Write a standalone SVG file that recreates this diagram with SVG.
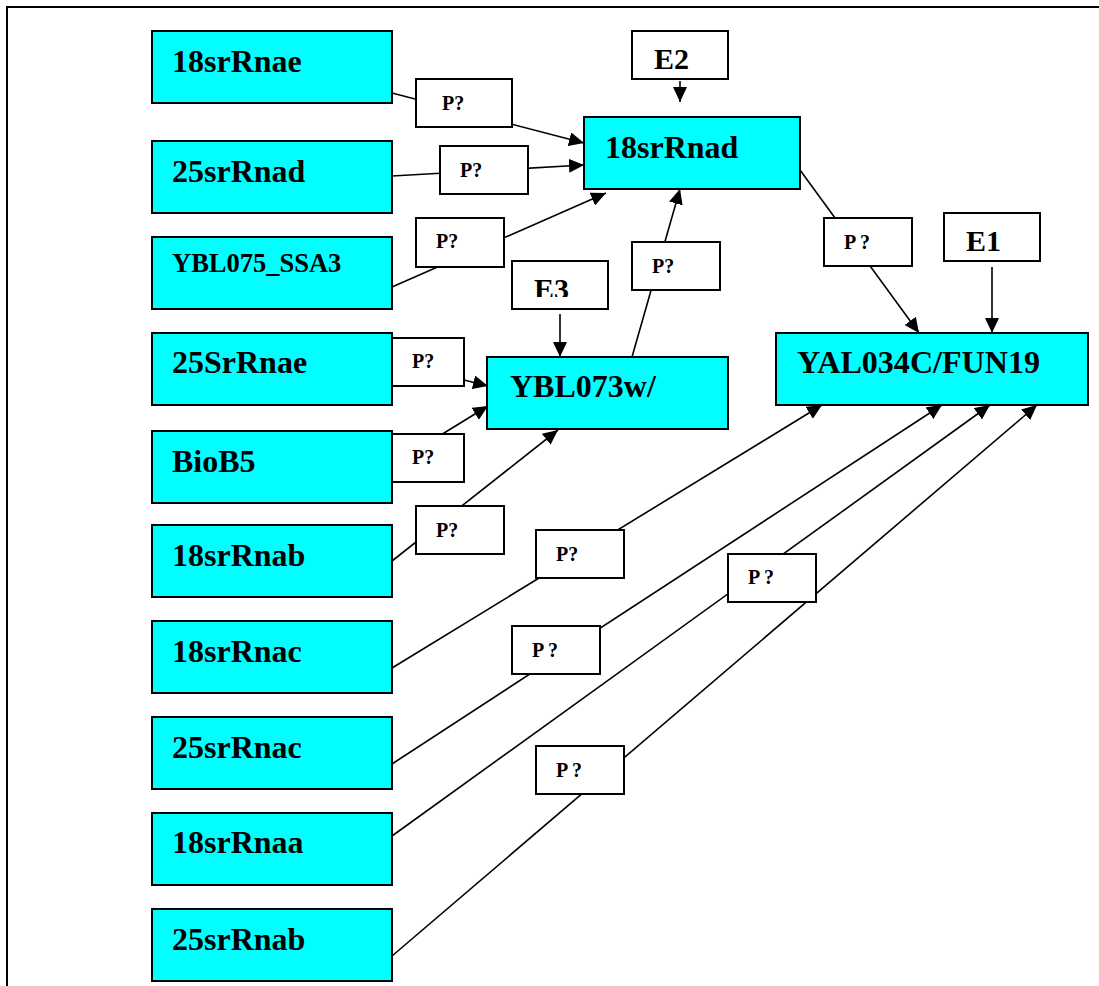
<svg xmlns="http://www.w3.org/2000/svg" width="1099" height="986" viewBox="0 0 1099 986">
  <style>
    .gene { fill: #00FFFF; stroke: #000; stroke-width: 2; }
    .tag { fill: #FFFFFF; stroke: #000; stroke-width: 2; }
    .name { font-family: "Liberation Serif", "Times New Roman", serif; font-weight: bold; font-size: 32px; fill: #000; }
    .small { font-size: 26.5px; }
    .wide { font-size: 31px; }
    .enz { font-family: "Liberation Serif", "Times New Roman", serif; font-weight: bold; font-size: 30px; fill: #000; }
    .p { font-family: "Liberation Serif", "Times New Roman", serif; font-weight: bold; font-size: 20px; fill: #000; }
    .link { stroke: #000; stroke-width: 1.6; fill: none; marker-end: url(#head); }
    .frame { stroke: #000; stroke-width: 2; fill: none; }
  </style>
  <defs>
    <marker id="head" markerUnits="userSpaceOnUse" markerWidth="15" markerHeight="14" refX="15" refY="7" orient="auto">
      <path d="M0,0 L15,7 L0,14 z" fill="#000"/>
    </marker>
    <clipPath id="clipE2"><rect x="632" y="50" width="96" height="29"/></clipPath>
    <clipPath id="clipE1"><rect x="944" y="232" width="96" height="29"/></clipPath>
    <clipPath id="clipE3"><rect x="512" y="261" width="96" height="36"/></clipPath>
  </defs>

  <rect width="1099" height="986" fill="#FFFFFF"/>
  <path class="frame" d="M7,1000 L7,7 L1110,7"/>

  <!-- connectors -->
  <g id="connectors">
    <line class="link" x1="392" y1="93" x2="584" y2="143"/>
    <line class="link" x1="392" y1="176" x2="584" y2="165"/>
    <line class="link" x1="392" y1="287" x2="606" y2="193"/>
    <line class="link" x1="632" y1="357" x2="680" y2="189"/>
    <line class="link" x1="800" y1="170" x2="919" y2="333"/>
    <line class="link" x1="680" y1="81" x2="680" y2="102"/>
    <line class="link" x1="992" y1="267" x2="992" y2="333"/>
    <line class="link" x1="560" y1="314" x2="560" y2="357"/>
    <line class="link" x1="392" y1="362" x2="488" y2="386"/>
    <line class="link" x1="392" y1="465" x2="488" y2="406"/>
    <line class="link" x1="392" y1="561" x2="558" y2="430"/>
    <line class="link" x1="392" y1="668" x2="822" y2="405"/>
    <line class="link" x1="392" y1="764" x2="942" y2="405"/>
    <line class="link" x1="392" y1="836" x2="990" y2="405"/>
    <line class="link" x1="392" y1="956" x2="1037" y2="405"/>
  </g>

  <!-- connector labels -->
  <g id="labels">
    <g id="lbl-1"><rect class="tag" x="416" y="79" width="96" height="48"/><text class="p" x="442" y="110">P?</text></g>
    <g id="lbl-2"><rect class="tag" x="440" y="146" width="88" height="48"/><text class="p" x="460" y="177">P?</text></g>
    <g id="lbl-3"><rect class="tag" x="416" y="218" width="88" height="49"/><text class="p" x="436" y="248">P?</text></g>
    <g id="lbl-4"><rect class="tag" x="632" y="242" width="88" height="48"/><text class="p" x="652" y="273">P?</text></g>
    <g id="lbl-5"><rect class="tag" x="824" y="218" width="88" height="48"/><text class="p" x="844" y="249" xml:space="preserve">P ?</text></g>
    <g id="lbl-6"><rect class="tag" x="392" y="338" width="72" height="48"/><text class="p" x="412" y="368">P?</text></g>
    <g id="lbl-7"><rect class="tag" x="392" y="434" width="72" height="48"/><text class="p" x="412" y="464">P?</text></g>
    <g id="lbl-8"><rect class="tag" x="416" y="506" width="88" height="48"/><text class="p" x="436" y="537">P?</text></g>
    <g id="lbl-9"><rect class="tag" x="536" y="530" width="88" height="48"/><text class="p" x="556" y="561">P?</text></g>
    <g id="lbl-10"><rect class="tag" x="512" y="626" width="88" height="48"/><text class="p" x="532" y="657" xml:space="preserve">P ?</text></g>
    <g id="lbl-11"><rect class="tag" x="728" y="554" width="88" height="48"/><text class="p" x="748" y="584" xml:space="preserve">P ?</text></g>
    <g id="lbl-12"><rect class="tag" x="536" y="746" width="88" height="48"/><text class="p" x="556" y="777" xml:space="preserve">P ?</text></g>
  </g>

  <!-- enzyme boxes -->
  <g id="E2"><rect class="tag" x="632" y="31" width="96" height="48"/><text class="enz" x="654" y="69" clip-path="url(#clipE2)">E2</text></g>
  <g id="E1"><rect class="tag" x="944" y="213" width="96" height="48"/><text class="enz" x="966" y="251" clip-path="url(#clipE1)">E1</text></g>
  <g id="E3"><rect class="tag" x="512" y="261" width="96" height="48"/><text class="enz" x="534" y="299" clip-path="url(#clipE3)">E3</text></g>

  <!-- gene nodes -->
  <g id="n-18srRnae"><rect class="gene" x="152" y="31" width="240" height="72"/><text class="name" x="172" y="72">18srRnae</text></g>
  <g id="n-25srRnad"><rect class="gene" x="152" y="141" width="240" height="72"/><text class="name" x="172" y="182">25srRnad</text></g>
  <g id="n-YBL075_SSA3"><rect class="gene" x="152" y="237" width="240" height="72"/><text class="name small" x="172" y="272">YBL075_SSA3</text></g>
  <g id="n-25SrRnae"><rect class="gene" x="152" y="333" width="240" height="72"/><text class="name" x="172" y="373">25SrRnae</text></g>
  <g id="n-BioB5"><rect class="gene" x="152" y="431" width="240" height="72"/><text class="name" x="172" y="472">BioB5</text></g>
  <g id="n-18srRnab"><rect class="gene" x="152" y="525" width="240" height="72"/><text class="name" x="172" y="566">18srRnab</text></g>
  <g id="n-18srRnac"><rect class="gene" x="152" y="621" width="240" height="72"/><text class="name" x="172" y="662">18srRnac</text></g>
  <g id="n-25srRnac"><rect class="gene" x="152" y="717" width="240" height="72"/><text class="name" x="172" y="758">25srRnac</text></g>
  <g id="n-18srRnaa"><rect class="gene" x="152" y="813" width="240" height="72"/><text class="name" x="172" y="853">18srRnaa</text></g>
  <g id="n-25srRnab"><rect class="gene" x="152" y="909" width="240" height="72"/><text class="name" x="172" y="950">25srRnab</text></g>

  <g id="n-18srRnad"><rect class="gene" x="584" y="117" width="216" height="72"/><text class="name" x="605" y="158">18srRnad</text></g>
  <g id="n-YBL073w"><rect class="gene" x="487" y="357" width="241" height="72"/><text class="name" x="510" y="397">YBL073w/</text></g>
  <g id="n-YAL034C_FUN19"><rect class="gene" x="776" y="333" width="312" height="72"/><text class="name wide" x="797" y="373" textLength="243" lengthAdjust="spacingAndGlyphs">YAL034C/FUN19</text></g>
</svg>
